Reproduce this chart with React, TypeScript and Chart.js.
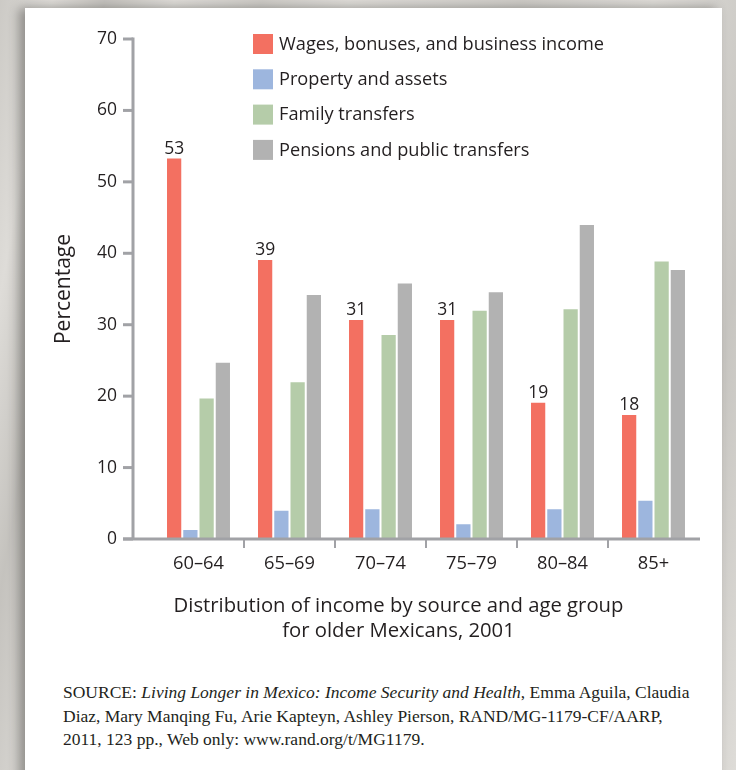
import React, { useEffect, useRef } from "react";
import { Chart, registerables } from "chart.js";

Chart.register(...registerables);

const categories = ["60–64", "65–69", "70–74", "75–79", "80–84", "85+"];
const seriesNames = [
  "Wages, bonuses, and business income",
  "Property and assets",
  "Family transfers",
  "Pensions and public transfers",
];
const wages = [53.4, 39.2, 30.8, 30.8, 19.2, 17.5];
const property = [1.4, 4.1, 4.3, 2.2, 4.3, 5.5];
const family = [19.8, 22.1, 28.7, 32.1, 32.3, 39.0];
const pensions = [24.8, 34.3, 35.9, 34.7, 44.1, 37.8];
const seriesColors = ["#f37061", "#9db6de", "#b5cca9", "#b2b2b2"];
const yTickValues = [0, 10, 20, 30, 40, 50, 60, 70];
const yAxisTitle = "Percentage";
const chartTitleLines = [
  "Distribution of income by source and age group",
  "for older Mexicans, 2001",
];

const FONT = "'Open Sans', sans-serif";
const TEXT = "#231f20";
const AXIS = "#a1a2a6";

const customPlugin = {
  id: "customDraw",
  afterDatasetsDraw(chart: any) {
    const { ctx, chartArea, scales } = chart;
    const x = scales.x;
    const y = scales.y;
    const ax = chartArea.left - 20;
    const y0 = y.getPixelForValue(0);
    ctx.save();
    ctx.strokeStyle = AXIS;
    ctx.lineCap = "butt";
    ctx.lineWidth = 3;
    // y axis line
    ctx.beginPath();
    ctx.moveTo(ax, y.getPixelForValue(yTickValues[yTickValues.length - 1]) - 1.5);
    ctx.lineTo(ax, y0);
    ctx.stroke();
    // y tick marks
    yTickValues.forEach((v) => {
      const py = y.getPixelForValue(v);
      ctx.beginPath();
      ctx.moveTo(ax - 10, py);
      ctx.lineTo(ax, py);
      ctx.stroke();
    });
    // x axis line
    ctx.beginPath();
    ctx.moveTo(ax - 10, y0);
    ctx.lineTo(chartArea.right + 1, y0);
    ctx.stroke();
    // category separators
    ctx.lineWidth = 2;
    for (let i = 1; i < categories.length; i++) {
      const px = Math.round((x.getPixelForValue(i - 1) + x.getPixelForValue(i)) / 2);
      ctx.beginPath();
      ctx.moveTo(px, y0);
      ctx.lineTo(px, y0 + 9);
      ctx.stroke();
    }
    // value labels above the first series
    ctx.fillStyle = TEXT;
    ctx.font = `17.5px ${FONT}`;
    ctx.textAlign = "center";
    ctx.textBaseline = "alphabetic";
    const meta = chart.getDatasetMeta(0);
    meta.data.forEach((bar: any, i: number) => {
      const v = chart.data.datasets[0].data[i];
      ctx.fillText(String(Math.round(v)), bar.x, bar.y - 4);
    });
    // legend
    const lx = 253;
    const ly = 34;
    ctx.textAlign = "left";
    ctx.textBaseline = "middle";
    ctx.font = `18.2px ${FONT}`;
    chart.data.datasets.forEach((ds: any, i: number) => {
      const top = ly + i * 35.3;
      ctx.fillStyle = ds.backgroundColor;
      ctx.fillRect(lx, top, 20, 20);
      ctx.fillStyle = TEXT;
      ctx.fillText(ds.label, lx + 26, top + 10.5);
    });
    // chart title below axis
    ctx.textAlign = "center";
    ctx.font = `20.3px ${FONT}`;
    chartTitleLines.forEach((line, i) => {
      ctx.fillText(line, 398.5, 606 + i * 25);
    });
    ctx.restore();
  },
};

function ChartCanvas() {
  const ref = useRef<HTMLCanvasElement | null>(null);
  useEffect(() => {
    if (!ref.current) return;
    const datasets = [wages, property, family, pensions].map((d, i) => ({
      label: seriesNames[i],
      data: d,
      backgroundColor: seriesColors[i],
      borderColor: "rgba(255,255,255,0.55)",
      borderWidth: 1,
      borderSkipped: "bottom",
      barPercentage: 1,
      categoryPercentage: 0.714,
    }));
    const chart = new Chart(ref.current, {
      type: "bar",
      data: { labels: categories, datasets },
      options: {
        animation: false,
        responsive: false,
        maintainAspectRatio: false,
        layout: { padding: { left: 0, right: 37, top: 39, bottom: 0 } },
        plugins: {
          legend: { display: false },
          tooltip: { enabled: false },
          title: { display: false },
        },
        scales: {
          x: {
            grid: { display: false, drawTicks: false },
            border: { display: false },
            ticks: {
              color: TEXT,
              font: { family: FONT, size: 18.3 },
              padding: 14,
              maxRotation: 0,
              autoSkip: false,
            },
            afterFit(scale: any) {
              scale.height = 101;
            },
          },
          y: {
            min: 0,
            max: 70,
            grid: { display: false, drawTicks: false },
            border: { display: false },
            ticks: {
              stepSize: 10,
              color: TEXT,
              font: { family: FONT, size: 17.5 },
              padding: 36,
            },
            title: {
              display: true,
              text: yAxisTitle,
              color: TEXT,
              font: { family: FONT, size: 21 },
              padding: { top: 51, bottom: 0 },
            },
            afterFit(scale: any) {
              scale.width = 153;
              scale.paddingTop = 10;
              scale.paddingBottom = 10;
            },
          },
        },
      },
      plugins: [customPlugin],
    });
    return () => chart.destroy();
  }, []);
  return (
    <canvas
      ref={ref}
      width={736}
      height={640}
      style={{ position: "absolute", left: 0, top: 0, width: 736, height: 640 }}
    />
  );
}

export default function App() {
  return (
    <div
      style={{
        position: "absolute",
        left: 0,
        top: 0,
        width: 736,
        height: 770,
        overflow: "hidden",
        background:
          "linear-gradient(100deg, rgba(150,148,142,0.25) 0%, rgba(255,255,255,0) 6%, rgba(120,118,112,0.25) 12%, rgba(255,255,255,0) 20%, rgba(140,138,132,0.2) 30%, rgba(255,255,255,0) 40%, rgba(140,138,132,0.2) 60%, rgba(255,255,255,0) 75%, rgba(130,128,122,0.25) 90%, rgba(255,255,255,0) 100%), #dedcd8",
      }}
    >
      <div
        style={{
          position: "absolute",
          left: 25,
          top: 8,
          width: 697,
          height: 800,
          background: "#ffffff",
          boxShadow: "-6px 0 10px rgba(60,58,55,0.45)",
        }}
      />
      <ChartCanvas />
      <div
        style={{
          position: "absolute",
          left: 63,
          top: 681,
          fontFamily: "'Liberation Serif', serif",
          fontSize: 17.5,
          lineHeight: "23.5px",
          color: TEXT,
          whiteSpace: "nowrap",
        }}
      >
        SOURCE: <i>Living Longer in Mexico: Income Security and Health</i>, Emma Aguila, Claudia
        <br />
        Diaz, Mary Manqing Fu, Arie Kapteyn, Ashley Pierson, RAND/MG-1179-CF/AARP,
        <br />
        2011, 123 pp., Web only: www.rand.org/t/MG1179.
      </div>
    </div>
  );
}
